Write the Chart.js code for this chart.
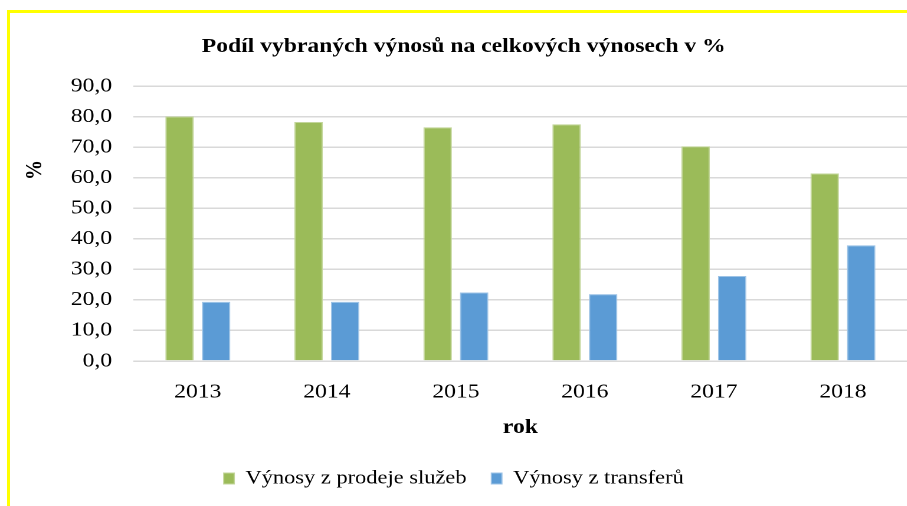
<!DOCTYPE html>
<html>
<head>
<meta charset="utf-8">
<script src="https://cdn.jsdelivr.net/npm/chart.js@4/dist/chart.umd.min.js"></script>
<style>
  html, body { margin: 0; padding: 0; background: #fff; }
  #wrap { position: relative; width: 907px; height: 506px; overflow: hidden; }
  #frame { position: absolute; left: 7px; top: 10px; width: 910px; height: 520px;
           border-left: 3px solid #ffff00; border-top: 3px solid #ffff00; box-sizing: border-box; }
  /* the reference is stretched sideways, so draw narrow and scale */
  #chart { position: absolute; left: 0; top: 0; transform: scaleX(1.18); transform-origin: 0 0; }
</style>
</head>
<body>
<div id="wrap">
  <div id="frame"></div>
  <canvas id="chart" width="769" height="506"></canvas>
</div>
<script>
var years = ['2013', '2014', '2015', '2016', '2017', '2018'];
var sluzby = [80.0, 78.2, 76.5, 77.5, 70.3, 61.4];
var transfery = [19.4, 19.4, 22.4, 21.9, 27.8, 37.9];

var serif = '"Liberation Serif", "Times New Roman", serif';
var chartTitle = 'Podíl vybraných výnosů na celkových výnosech v %';

// title and y axis title are not centred on the canvas, so draw them by hand
var extraText = {
    id: 'extraText',
    afterDraw: function(chart) {
        var ctx = chart.ctx;
        ctx.save();
        ctx.fillStyle = '#000';
        ctx.textAlign = 'center';
        ctx.textBaseline = 'middle';
        ctx.font = 'bold 20px ' + serif;
        ctx.fillText(chartTitle, 393, 47);
        ctx.translate(30, 170);
        ctx.rotate(-Math.PI / 2);
        ctx.fillText('%', 0, 0);
        ctx.restore();
    }
};

new Chart(document.getElementById('chart'), {
    type: 'bar',
    data: {
        labels: years,
        datasets: [{
            label: 'Výnosy z prodeje služeb',
            data: sluzby,
            backgroundColor: '#9bbb59',
            borderColor: '#c3d69b',
            borderWidth: 1
        }, {
            label: 'Výnosy z transferů',
            data: transfery,
            backgroundColor: '#5b9bd5',
            borderColor: '#9dc3e6',
            borderWidth: 1
        }]
    },
    plugins: [extraText],
    options: {
        responsive: false,
        animation: false,
        devicePixelRatio: 2,
        layout: { padding: { left: 0, right: 0, top: 86, bottom: 8 } },
        datasets: {
            bar: { categoryPercentage: 0.566, barPercentage: 0.78 }
        },
        plugins: {
            legend: {
                position: 'bottom',
                labels: {
                    color: '#000',
                    font: { family: serif, size: 19 },
                    boxWidth: 9,
                    boxHeight: 11,
                    padding: 21
                }
            },
            tooltip: { enabled: false }
        },
        scales: {
            x: {
                grid: { display: false, drawTicks: false },
                border: { display: false },
                ticks: { color: '#000', font: { family: serif, size: 20 }, padding: 19 },
                title: {
                    display: true,
                    text: 'rok',
                    color: '#000',
                    font: { family: serif, size: 20, weight: 'bold' },
                    padding: { top: -7, bottom: 8 }
                }
            },
            y: {
                min: 0,
                max: 90,
                grid: { color: '#d9d9d9', lineWidth: 1.5, drawTicks: false },
                border: { display: false },
                afterFit: function(scale) { scale.width = 113; },
                ticks: {
                    stepSize: 10,
                    color: '#000',
                    font: { family: serif, size: 20 },
                    padding: 18,
                    callback: function(v) { return v.toFixed(1).replace('.', ','); }
                }
            }
        }
    }
});
</script>
</body>
</html>
